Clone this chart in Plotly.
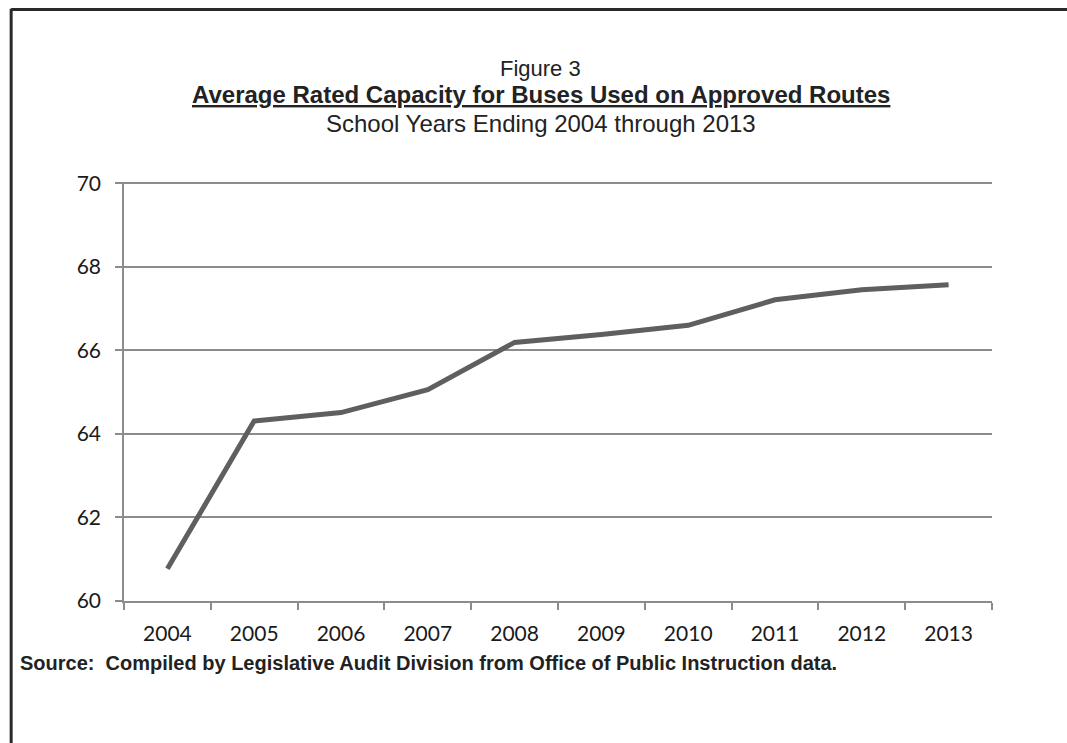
import plotly.graph_objects as go

years = ["2004", "2005", "2006", "2007", "2008", "2009", "2010", "2011", "2012", "2013"]
capacity = [60.77, 64.31, 64.51, 65.06, 66.19, 66.38, 66.6, 67.21, 67.45, 67.57]
y_ticks = [60, 62, 64, 66, 68, 70]

narrow = "Liberation Sans Narrow, Arial Narrow, Liberation Sans, Arial, sans-serif"
tickfont = dict(family="Lato, Carlito, Calibri, sans-serif", size=21, color="#1a1a1a")

fig = go.Figure()
fig.add_trace(go.Scatter(
    x=years, y=capacity, mode="lines",
    line=dict(color="#5f5f5f", width=5),
    showlegend=False, hoverinfo="x+y",
))

fig.update_layout(
    width=1067, height=743,
    margin=dict(l=124, r=75, t=182, b=142),
    paper_bgcolor="white", plot_bgcolor="white",
    xaxis=dict(
        type="category", range=[-0.5, 9.5],
        showgrid=False, showline=True, linecolor="#8c8c8c", linewidth=1.5,
        ticks="outside", ticklen=7, tickcolor="#8c8c8c", tickwidth=1.5,
        tickson="boundaries", tickfont=tickfont, ticklabelstandoff=13,
        zeroline=False,
    ),
    yaxis=dict(
        range=[60, 70.03], tickvals=y_ticks,
        showgrid=True, gridcolor="#8c8c8c", gridwidth=1.5,
        showline=True, linecolor="#8c8c8c", linewidth=1.5,
        ticks="outside", ticklen=7, tickcolor="#8c8c8c", tickwidth=1.5,
        tickfont=tickfont, ticklabelstandoff=10, zeroline=False,
    ),
    annotations=[
        dict(text="Figure 3", xref="paper", yref="paper", x=0.480, y=1.272,
             xanchor="center", yanchor="middle", showarrow=False,
             font=dict(family=narrow, size=22, color="#222222")),
        dict(text="<b><span style='text-decoration:underline'>Average Rated Capacity for Buses Used on Approved Routes</span></b>",
             xref="paper", yref="paper", x=0.480, y=1.210,
             xanchor="center", yanchor="middle", showarrow=False,
             font=dict(family=narrow, size=24, color="#222222")),
        dict(text="School Years Ending 2004 through 2013", xref="paper", yref="paper",
             x=0.480, y=1.140, xanchor="center", yanchor="middle", showarrow=False,
             font=dict(family=narrow, size=24, color="#222222")),
        dict(text="<b>Source:  Compiled by Legislative Audit Division from Office of Public Instruction data.</b>",
             xref="paper", yref="paper", x=-0.122, y=-0.148,
             xanchor="left", yanchor="middle", showarrow=False,
             font=dict(family=narrow, size=20, color="#222222")),
    ],
    shapes=[
        dict(type="line", xref="paper", yref="paper", x0=-0.130, x1=1.09, y0=1.4117, y1=1.4117,
             line=dict(color="#2a2a2a", width=3)),
        dict(type="line", xref="paper", yref="paper", x0=-0.130, x1=-0.130, y0=1.4135, y1=-0.35,
             line=dict(color="#2a2a2a", width=3)),
    ],
)

fig.write_html("out.html", config={"displayModeBar": False},
               post_script="document.body.style.margin='0';")
